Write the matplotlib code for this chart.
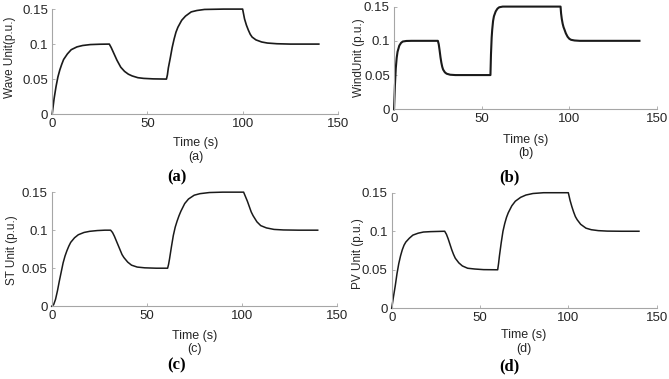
import matplotlib
matplotlib.use("Agg")
import matplotlib.pyplot as plt

plt.rcParams['font.family'] = ['Liberation Sans', 'DejaVu Sans']

# (a) wave unit
t_wave = [0, 1, 2, 3, 4, 5, 6, 8, 10, 13, 16, 20, 25, 30,
          31, 32, 33, 34, 35, 36, 38, 40, 42, 45, 48, 53, 60,
          60.5, 61, 62, 63, 64, 65, 66, 68, 70, 73, 76, 80, 90, 100,
          101, 102, 103, 104, 105, 107, 110, 113, 118, 125, 140]
p_wave = [0, 0.022, 0.039, 0.053, 0.063, 0.071, 0.078, 0.086, 0.092, 0.096, 0.098, 0.0993, 0.0998, 0.1,
          0.095, 0.089, 0.083, 0.077, 0.072, 0.067, 0.061, 0.057, 0.0545, 0.052, 0.051, 0.0503, 0.05,
          0.056, 0.066, 0.08, 0.095, 0.107, 0.117, 0.124, 0.134, 0.14, 0.146, 0.148, 0.1495, 0.15, 0.15,
          0.136, 0.127, 0.12, 0.114, 0.11, 0.106, 0.103, 0.1015, 0.1005, 0.1, 0.1]

# (b) wind unit
t_wind = [0, 0.5, 1, 1.5, 2, 3, 4, 5, 7, 10, 25,
          25.5, 26, 26.5, 27, 27.5, 28, 29, 30, 32, 35, 55,
          55.3, 55.7, 56, 56.5, 57, 58, 59, 60, 62, 95,
          95.3, 95.7, 96.2, 96.7, 97.3, 98, 99, 100, 101, 103, 106, 140]
p_wind = [0, 0.035, 0.06, 0.075, 0.084, 0.093, 0.097, 0.099, 0.0998, 0.1, 0.1,
          0.095, 0.086, 0.076, 0.068, 0.062, 0.058, 0.054, 0.052, 0.0505, 0.05, 0.05,
          0.08, 0.105, 0.116, 0.129, 0.136, 0.143, 0.147, 0.149, 0.15, 0.15,
          0.14, 0.132, 0.125, 0.12, 0.116, 0.111, 0.106, 0.103, 0.1015, 0.1005, 0.1, 0.1]

# (c) ST unit
t_st = [0, 1, 2, 3, 4, 5, 6, 7, 8, 9, 10, 12, 14, 17, 20, 24, 28, 31,
        32, 33, 34, 35, 36, 37, 38, 40, 42, 45, 49, 55, 61,
        61.5, 62, 63, 64, 65, 66, 67, 68, 70, 72, 75, 78, 83, 90, 101,
        102, 103, 104, 105, 106, 108, 110, 113, 117, 122, 130, 140]
p_st = [0, 0.002, 0.009, 0.02, 0.033, 0.045, 0.057, 0.066, 0.073, 0.079, 0.084, 0.09, 0.094, 0.097, 0.0985, 0.0995, 0.1, 0.1,
        0.097, 0.092, 0.086, 0.08, 0.074, 0.068, 0.064, 0.058, 0.054, 0.0515, 0.0505, 0.05, 0.05,
        0.055, 0.062, 0.078, 0.093, 0.104, 0.112, 0.119, 0.125, 0.135, 0.141, 0.146, 0.148, 0.1495, 0.15, 0.15,
        0.144, 0.138, 0.131, 0.124, 0.119, 0.111, 0.106, 0.103, 0.101, 0.1003, 0.1, 0.1]

# (d) PV unit
t_pv = [0, 1, 2, 3, 4, 5, 6, 7, 8, 10, 12, 15, 18, 22, 30,
        31, 32, 33, 34, 35, 36, 38, 40, 43, 47, 52, 60,
        60.5, 61, 62, 63, 64, 65, 66, 68, 70, 73, 76, 80, 86, 100,
        101, 102, 103, 104, 105, 107, 110, 113, 117, 122, 130, 140]
p_pv = [0, 0.015, 0.029, 0.045, 0.058, 0.068, 0.076, 0.082, 0.086, 0.091, 0.095, 0.0975, 0.099, 0.0995, 0.1,
        0.096, 0.09, 0.083, 0.076, 0.07, 0.065, 0.059, 0.055, 0.052, 0.051, 0.0502, 0.05,
        0.058, 0.068, 0.085, 0.1, 0.11, 0.118, 0.124, 0.133, 0.139, 0.144, 0.147, 0.149, 0.15, 0.15,
        0.14, 0.132, 0.125, 0.119, 0.115, 0.109, 0.104, 0.102, 0.1008, 0.1002, 0.1, 0.1]

x_ticks = [0, 50, 100, 150]
y_ticks = [0, 0.05, 0.1, 0.15]
y_tick_labels = ["0", "0.05", "0.1", "0.15"]

panels = [
    # data, axes rect, ylabel, ylabel pos, xlabel pos, tag, caption pos, line width
    ((t_wave, p_wave), [0.078, 0.699, 0.427, 0.277], "Wave Unit(p.u.)", (0.015, 0.85),
     (0.293, 0.623), "(a)", (0.265, 0.533), 1.2),
    ((t_wind, p_wind), [0.589, 0.7116, 0.393, 0.271], "WindUnit (p.u.)", (0.537, 0.847),
     (0.786, 0.631), "(b)", (0.762, 0.533), 1.5),
    ((t_st, p_st), [0.0773, 0.192, 0.426, 0.301], "ST Unit (p.u.)", (0.0175, 0.34),
     (0.291, 0.114), "(c)", (0.264, 0.037), 1.1),
    ((t_pv, p_pv), [0.5855, 0.1865, 0.396, 0.305], "PV Unit (p.u.)", (0.535, 0.332),
     (0.783, 0.116), "(d)", (0.762, 0.032), 1.1),
]

fig = plt.figure(figsize=(6.69, 3.79), dpi=100)
txt = '#262626'
for (t, p), rect, ylab, ypos, xpos, tag, cpos, lw in panels:
    ax = fig.add_axes(rect)
    ax.plot(t, p, color='#1a1a1a', lw=lw, clip_on=False)
    ax.set_xlim(0, 150)
    ax.set_ylim(0, 0.15)
    ax.set_xticks(x_ticks)
    ax.set_yticks(y_ticks)
    ax.set_yticklabels(y_tick_labels)
    for side in ('top', 'right'):
        ax.spines[side].set_visible(False)
    for side in ('left', 'bottom'):
        ax.spines[side].set_color('#a6a6a6')
        ax.spines[side].set_linewidth(0.8)
    ax.tick_params(direction='in', length=2.5, width=0.6, color='#a6a6a6',
                   labelsize=9.5, labelcolor=txt, pad=3)
    fig.text(ypos[0], ypos[1], ylab, rotation=90, ha='center', va='center',
             fontsize=8.5, color=txt)
    fig.text(xpos[0], xpos[1], "Time (s)", ha='center', va='center',
             fontsize=9, color=txt)
    fig.text(xpos[0], xpos[1] - 0.036, tag, ha='center', va='center',
             fontsize=9, color=txt)
    fig.text(cpos[0], cpos[1], tag, ha='center', va='center', fontsize=12,
             fontweight='bold', family='Liberation Serif', color='black')

fig.savefig("out.png", dpi=100)
